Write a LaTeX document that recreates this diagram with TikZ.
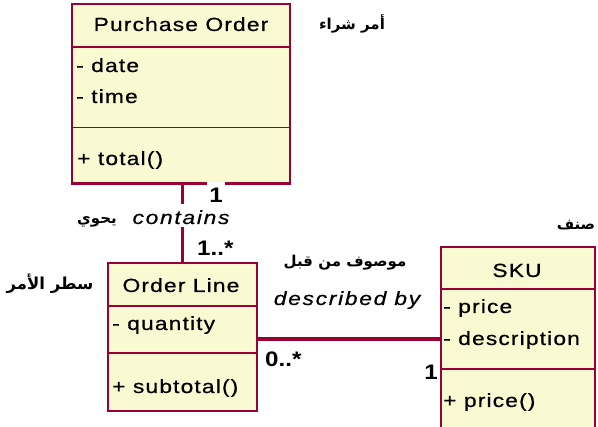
\documentclass[tikz,border=0pt]{standalone}
\usepackage{fontspec}
\setmainfont{Liberation Sans}
\newfontfamily\umlfont[FakeStretch=1.2, LetterSpace=6, FakeBold=0.6]{Liberation Sans}
\newfontfamily\umlitfont[FakeStretch=1.2, LetterSpace=9, FakeBold=0.6]{Liberation Sans Italic}
\newfontfamily\multfont[FakeStretch=1.15]{Liberation Sans Bold}
\newfontfamily\arabicfont[Script=Arabic]{DejaVu Sans}
\TeXXeTstate=1
\definecolor{umlfill}{RGB}{250,250,210}
\definecolor{umlline}{RGB}{153,0,51}
\tikzset{
  classbox/.style={draw=umlline, fill=umlfill, line width=1.3pt, inner sep=0pt, outer sep=0pt, anchor=north west},
  divider/.style={draw=umlline, line width=1.3pt},
  assoc/.style={draw=umlline, line width=3.2pt},
  umltext/.style={font=\fontsize{19}{19}\umlfont, inner sep=0pt},
  itallabel/.style={font=\fontsize{19}{19}\umlitfont, inner sep=0pt},
  multlabel/.style={font=\fontsize{21}{21}\multfont, inner sep=0pt},
  arlabel/.style={font=\fontsize{15}{15}\selectfont\arabicfont\bfseries, inner sep=0pt},
}
\begin{document}
\begin{tikzpicture}[x=1pt,y=-1pt]
\useasboundingbox (0,0) rectangle (598,427);
\fill[white] (0,0) rectangle (598,427);
\begin{scope}
\clip (0,0) rectangle (598,427);
% class boxes
\node[classbox, minimum width=218pt, minimum height=180pt] (po) at (72,4) {};
\node[classbox, minimum width=149pt, minimum height=148pt] (ol) at (108,263) {};
\node[classbox, minimum width=154pt, minimum height=200pt] (sku) at (441,247) {};
% dividers
\draw[divider] (po.west |- 0,47) -- (po.east |- 0,47);
\draw[divider, line width=0.9pt] (po.west |- 0,127) -- (po.east |- 0,127);
\draw[umlline, line width=3pt] (po.south west) -- (po.south east);
\draw[divider] (ol.west |- 0,306) -- (ol.east |- 0,306);
\draw[divider] (ol.west |- 0,353) -- (ol.east |- 0,353);
\draw[divider] (sku.west |- 0,289) -- (sku.east |- 0,289);
\draw[divider] (sku.west |- 0,369) -- (sku.east |- 0,369);
% class texts
\node[umltext, anchor=base] (potitle) at (181,31) {Purchase Order};
\node[umltext, anchor=base west] (podate) at (76,72) {- date};
\node[umltext, anchor=base west] (potime) at (76,103) {- time};
\node[umltext, anchor=base west] (pototal) at (77,165) {+ total()};
\node[umltext, anchor=base] (oltitle) at (181,292) {Order Line};
\node[umltext, anchor=base west] (olqty) at (112,330) {- quantity};
\node[umltext, anchor=base west] (olsub) at (112,393) {+ subtotal()};
\node[umltext, anchor=base] (skutitle) at (517,277) {SKU};
\node[umltext, anchor=base west] (skuprice) at (443,313) {- price};
\node[umltext, anchor=base west] (skudesc) at (443,345) {- description};
\node[umltext, anchor=base west] (skuop) at (443,407) {+ price()};
% connectors
\draw[assoc] (ol.north |- po.south) -- (ol.north);
\draw[assoc] (ol.east |- 0,339) -- (sku.west |- 0,339);
% association labels
\node[multlabel, anchor=base, fill=white, inner xsep=2pt, inner ysep=1pt, text height=20pt] (m1) at (216,203) {1};
\node[itallabel, anchor=base, fill=white, inner xsep=2pt, inner ysep=3pt, text height=17pt] (contains) at (181,224) {contains};
\node[arlabel, anchor=base] (yahwi) at (97,224) {\beginR يحوي\endR};
\node[multlabel, anchor=base west] (m2) at (197,256) {1..*};
\node[itallabel, anchor=base] (descby) at (347,305) {described by};
\node[arlabel, anchor=base] (mawsuf) at (345,267) {\beginR موصوف من قبل\endR};
\node[multlabel, anchor=base west] (m3) at (265,367) {0..*};
\node[multlabel, anchor=base] (m4) at (431,380) {1};
% class name translations
\node[arlabel, anchor=base] (amr) at (352,30) {\beginR أمر شراء\endR};
\node[arlabel, font=\fontsize{16.5}{16.5}\selectfont\arabicfont\bfseries, anchor=base] (satr) at (50,290) {\beginR سطر الأمر\endR};
\node[arlabel, anchor=base] (sinf) at (576,230) {\beginR صنف\endR};
\end{scope}
\end{tikzpicture}
\end{document}
